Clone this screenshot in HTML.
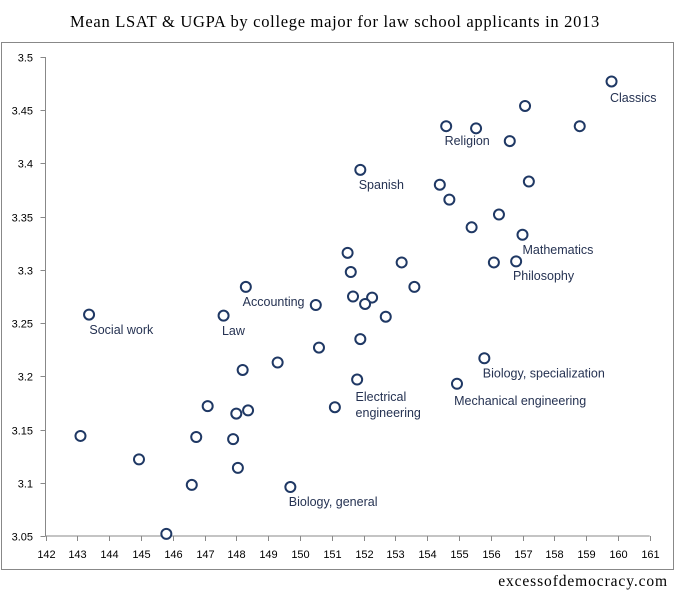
<!DOCTYPE html>
<html><head><meta charset="utf-8"><style>
body{margin:0;background:#fff;width:676px;height:595px;overflow:hidden}
svg text{font-family:"Liberation Sans",sans-serif}
</style></head><body>
<svg id="c" width="676" height="595">
<rect x="1.5" y="42.5" width="672" height="527" fill="#fff" stroke="#888"/>
<text x="335" y="27" text-anchor="middle" style="font-family:'Liberation Serif',serif;font-size:16.5px;letter-spacing:0.7px" fill="#000">Mean LSAT &amp; UGPA by college major for law school applicants in 2013</text>
<text x="668" y="586" text-anchor="end" style="font-family:'Liberation Serif',serif;font-size:15.5px;letter-spacing:0.9px" fill="#000">excessofdemocracy.com</text>
<g id="axes"></g><g id="marks"></g><g id="labels"></g>
</svg>
<script>
const lsat=[159.8,157.08,154.6,155.54,158.8,156.6,151.9,154.4,157.2,154.7,156.26,155.4,157.0,151.5,153.2,156.1,156.8,151.6,148.3,153.6,150.5,143.37,147.6,151.67,152.27,152.05,152.7,151.9,150.6,149.3,155.8,148.2,151.8,154.94,147.1,148.37,148.0,151.1,143.1,146.74,147.9,144.94,148.05,146.6,149.7,145.8];
const ugpa=[3.477,3.454,3.435,3.433,3.435,3.421,3.394,3.380,3.383,3.366,3.352,3.340,3.333,3.316,3.307,3.307,3.308,3.298,3.284,3.284,3.267,3.258,3.257,3.275,3.274,3.268,3.256,3.235,3.227,3.213,3.217,3.206,3.197,3.193,3.172,3.168,3.165,3.171,3.144,3.143,3.141,3.122,3.114,3.098,3.096,3.052];
const labelText=["Classics","Religion","Spanish","Mathematics","Philosophy","Accounting","Social work","Law","Biology, specialization","Electrical","engineering","Mechanical engineering","Biology, general"];
const labelX=[159.75,154.55,151.85,157.0,156.7,148.2,143.38,147.55,155.75,151.75,151.75,154.85,149.65];
const labelY=[3.4577,3.4172,3.376,3.315,3.2905,3.266,3.2398,3.2388,3.199,3.1768,3.1618,3.173,3.0782];
const xTicks=[142,143,144,145,146,147,148,149,150,151,152,153,154,155,156,157,158,159,160,161];
const yTicks=[3.05,3.1,3.15,3.2,3.25,3.3,3.35,3.4,3.45,3.5];
const X0=45.5,X1=649.7,Y0=536,Y1=57;
const sx=v=>X0+(v-142)/(161-142)*(X1-X0);
const sy=v=>Y0-(v-3.05)/(3.5-3.05)*(Y0-Y1);
const NS="http://www.w3.org/2000/svg";
function mk(t,a,p){const e=document.createElementNS(NS,t);for(const k in a)e.setAttribute(k,a[k]);p.appendChild(e);return e;}
const ax=document.getElementById('axes'),mg=document.getElementById('marks'),lg=document.getElementById('labels');
let l=mk('line',{x1:X0,y1:Y1,x2:X0,y2:Y0,stroke:'#888'},ax);


l=mk('line',{x1:X0,y1:Y0,x2:X1,y2:Y0,stroke:'#888'},ax);


xTicks.forEach(v=>{const x=Math.round(sx(v))+0.5;
 mk('line',{x1:x,y1:Y0,x2:x,y2:Y0+5,stroke:'#888'},ax);
 const t=mk('text',{x:x,y:558,'text-anchor':'middle','font-size':11,fill:'#000'},ax);t.textContent=v;
 
 });
yTicks.forEach(v=>{const y=Math.round(sy(v))+0.5;
 mk('line',{x1:X0-5,y1:y,x2:X0,y2:y,stroke:'#888'},ax);
 const t=mk('text',{x:33,y:y+4,'text-anchor':'end','font-size':11,fill:'#000'},ax);t.textContent=v;
 
 });
lsat.forEach((v,i)=>{const c=mk('circle',{cx:sx(v),cy:sy(ugpa[i]),r:5,fill:'#fff',stroke:'#1f3864','stroke-width':2},mg);
 
 });
labelText.forEach((s,i)=>{const t=mk('text',{x:sx(labelX[i]),y:sy(labelY[i]),'font-size':12.5,fill:'#253252'},lg);t.textContent=s;
 
 });
</script>
</body></html>
